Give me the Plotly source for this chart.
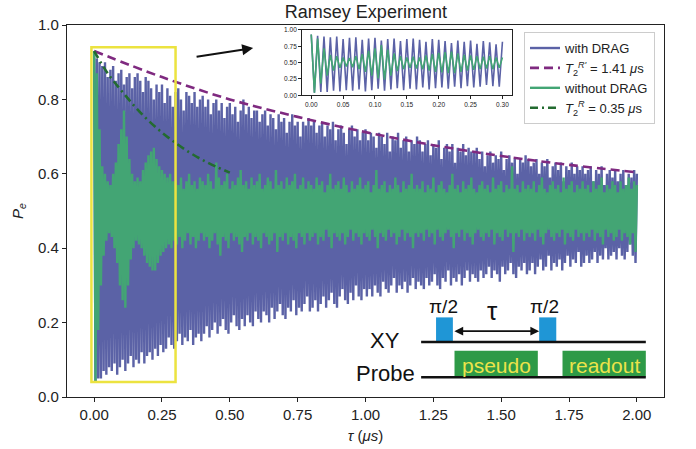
import numpy as np
import plotly.graph_objects as go

# ---------------- data ----------------
# Ramsey fringes sampled at peaks (t = 0, 0.01, ... 2.00 us) and troughs (t = 0.005, ... 1.995 us)
blue_tops = [
    0.93, 0.91, 0.90, 0.89, 0.90, 0.86, 0.88, 0.89, 0.85, 0.87, 0.88, 0.84, 0.86, 0.87, 0.83, 0.86, 0.87, 0.85, 0.82, 0.86,
    0.85, 0.83, 0.80, 0.84, 0.82, 0.84, 0.79, 0.83, 0.81, 0.78, 0.82, 0.83, 0.80, 0.77, 0.82, 0.81, 0.79, 0.82, 0.78, 0.80,
    0.81, 0.78, 0.80, 0.76, 0.79, 0.80, 0.77, 0.79, 0.75, 0.78, 0.79, 0.76, 0.78, 0.74, 0.77, 0.80, 0.76, 0.78, 0.75, 0.77,
    0.77, 0.74, 0.76, 0.77, 0.73, 0.76, 0.75, 0.72, 0.76, 0.74, 0.75, 0.71, 0.74, 0.76, 0.73, 0.74, 0.70, 0.74, 0.73, 0.75,
    0.73, 0.74, 0.71, 0.73, 0.74, 0.70, 0.73, 0.72, 0.74, 0.69, 0.72, 0.73, 0.71, 0.68, 0.72, 0.73, 0.70, 0.72, 0.69, 0.71,
    0.72, 0.69, 0.71, 0.70, 0.67, 0.71, 0.70, 0.68, 0.71, 0.66, 0.70, 0.69, 0.71, 0.67, 0.69, 0.70, 0.66, 0.69, 0.68, 0.70,
    0.69, 0.66, 0.68, 0.69, 0.65, 0.68, 0.67, 0.69, 0.64, 0.67, 0.68, 0.66, 0.68, 0.63, 0.67, 0.66, 0.68, 0.65, 0.67, 0.66,
    0.66, 0.67, 0.64, 0.66, 0.62, 0.65, 0.66, 0.63, 0.65, 0.64, 0.66, 0.61, 0.64, 0.65, 0.63, 0.64, 0.60, 0.64, 0.63, 0.65,
    0.64, 0.62, 0.63, 0.64, 0.60, 0.63, 0.62, 0.64, 0.59, 0.62, 0.63, 0.61, 0.63, 0.58, 0.62, 0.61, 0.63, 0.60, 0.62, 0.61,
    0.62, 0.60, 0.61, 0.62, 0.58, 0.61, 0.60, 0.62, 0.57, 0.60, 0.61, 0.59, 0.61, 0.58, 0.60, 0.61, 0.57, 0.60, 0.59, 0.61,
    0.60,
]
blue_bottoms = [
    0.04, 0.05, 0.05, 0.07, 0.06, 0.08, 0.07, 0.09, 0.06, 0.08, 0.10, 0.07, 0.09, 0.11, 0.08, 0.10, 0.09, 0.12, 0.09, 0.11,
    0.12, 0.10, 0.13, 0.11, 0.14, 0.12, 0.13, 0.16, 0.14, 0.13, 0.15, 0.17, 0.14, 0.16, 0.15, 0.18, 0.14, 0.16, 0.17, 0.15,
    0.17, 0.19, 0.16, 0.18, 0.20, 0.17, 0.19, 0.21, 0.18, 0.17, 0.20, 0.22, 0.19, 0.18, 0.21, 0.19, 0.22, 0.20, 0.19, 0.23,
    0.21, 0.20, 0.23, 0.22, 0.20, 0.24, 0.21, 0.23, 0.25, 0.22, 0.21, 0.24, 0.23, 0.26, 0.22, 0.24, 0.23, 0.25, 0.27, 0.23,
    0.24, 0.26, 0.23, 0.25, 0.27, 0.24, 0.26, 0.28, 0.25, 0.24, 0.27, 0.29, 0.26, 0.25, 0.28, 0.26, 0.30, 0.27, 0.26, 0.29,
    0.27, 0.29, 0.27, 0.30, 0.28, 0.27, 0.31, 0.29, 0.28, 0.30, 0.32, 0.28, 0.30, 0.29, 0.31, 0.28, 0.30, 0.32, 0.29, 0.31,
    0.30, 0.29, 0.32, 0.30, 0.31, 0.33, 0.30, 0.29, 0.32, 0.31, 0.34, 0.30, 0.32, 0.31, 0.33, 0.30, 0.32, 0.34, 0.31, 0.33,
    0.32, 0.31, 0.34, 0.32, 0.33, 0.35, 0.32, 0.34, 0.33, 0.31, 0.35, 0.33, 0.34, 0.36, 0.33, 0.32, 0.35, 0.34, 0.36, 0.33,
    0.34, 0.36, 0.33, 0.35, 0.37, 0.34, 0.35, 0.38, 0.34, 0.36, 0.35, 0.37, 0.34, 0.36, 0.38, 0.35, 0.37, 0.36, 0.39, 0.35,
    0.36, 0.38, 0.36, 0.37, 0.39, 0.36, 0.38, 0.37, 0.40, 0.37, 0.38, 0.39, 0.37, 0.40, 0.38, 0.37, 0.39, 0.41, 0.38, 0.36,
]
green_tops = [
    0.93, 0.87, 0.72, 0.62, 0.60, 0.58, 0.57, 0.60, 0.63, 0.68, 0.72, 0.77, 0.70, 0.64, 0.60, 0.58, 0.59, 0.58, 0.61, 0.63,
    0.65, 0.66, 0.67, 0.64, 0.62, 0.61, 0.60, 0.59, 0.60, 0.58, 0.58, 0.57, 0.59, 0.56, 0.58, 0.60, 0.57, 0.58, 0.56, 0.59,
    0.58, 0.57, 0.60, 0.58, 0.56, 0.63, 0.59, 0.57, 0.58, 0.60, 0.56, 0.58, 0.57, 0.59, 0.61, 0.57, 0.58, 0.56, 0.59, 0.57,
    0.58, 0.60, 0.56, 0.57, 0.59, 0.58, 0.56, 0.61, 0.57, 0.58, 0.56, 0.59, 0.57, 0.58, 0.60, 0.56, 0.57, 0.59, 0.56, 0.58,
    0.57, 0.56, 0.59, 0.57, 0.58, 0.55, 0.57, 0.60, 0.56, 0.57, 0.58, 0.56, 0.59, 0.57, 0.55, 0.58, 0.56, 0.57, 0.59, 0.56,
    0.57, 0.58, 0.55, 0.57, 0.61, 0.56, 0.57, 0.58, 0.55, 0.57, 0.56, 0.59, 0.57, 0.55, 0.58, 0.56, 0.57, 0.60, 0.56, 0.57,
    0.56, 0.58, 0.55, 0.57, 0.56, 0.59, 0.55, 0.57, 0.58, 0.56, 0.55, 0.57, 0.60, 0.56, 0.57, 0.55, 0.58, 0.56, 0.57, 0.59,
    0.56, 0.55, 0.57, 0.58, 0.56, 0.57, 0.55, 0.59, 0.56, 0.57, 0.58, 0.55, 0.57, 0.56, 0.62, 0.56, 0.57, 0.55, 0.58, 0.56,
    0.57, 0.56, 0.58, 0.55, 0.57, 0.59, 0.56, 0.55, 0.57, 0.58, 0.56, 0.57, 0.55, 0.59, 0.56, 0.57, 0.58, 0.55, 0.57, 0.56,
    0.58, 0.56, 0.57, 0.55, 0.58, 0.56, 0.57, 0.59, 0.55, 0.57, 0.56, 0.58, 0.57, 0.55, 0.58, 0.56, 0.57, 0.59, 0.56, 0.58,
    0.57,
]
green_bottoms = [
    0.04, 0.18, 0.30, 0.38, 0.42, 0.44, 0.43, 0.40, 0.36, 0.30, 0.26, 0.24, 0.30, 0.37, 0.40, 0.42, 0.41, 0.40, 0.38, 0.36,
    0.35, 0.34, 0.34, 0.36, 0.38, 0.39, 0.40, 0.41, 0.40, 0.42, 0.41, 0.43, 0.40, 0.42, 0.44, 0.41, 0.43, 0.40, 0.42, 0.44,
    0.42, 0.43, 0.40, 0.42, 0.44, 0.41, 0.38, 0.43, 0.42, 0.40, 0.44, 0.42, 0.43, 0.41, 0.39, 0.43, 0.42, 0.44, 0.41, 0.43,
    0.42, 0.40, 0.44, 0.43, 0.41, 0.42, 0.44, 0.39, 0.43, 0.42, 0.44, 0.41, 0.43, 0.42, 0.40, 0.44, 0.43, 0.41, 0.44, 0.42,
    0.43, 0.44, 0.41, 0.43, 0.42, 0.45, 0.43, 0.40, 0.44, 0.43, 0.42, 0.44, 0.41, 0.43, 0.45, 0.42, 0.44, 0.43, 0.41, 0.44,
    0.43, 0.42, 0.45, 0.43, 0.40, 0.44, 0.43, 0.42, 0.45, 0.43, 0.44, 0.41, 0.43, 0.45, 0.42, 0.44, 0.43, 0.40, 0.44, 0.43,
    0.44, 0.42, 0.45, 0.43, 0.44, 0.41, 0.45, 0.43, 0.42, 0.44, 0.45, 0.43, 0.40, 0.44, 0.43, 0.45, 0.42, 0.44, 0.43, 0.41,
    0.44, 0.45, 0.43, 0.42, 0.44, 0.43, 0.45, 0.41, 0.44, 0.43, 0.42, 0.45, 0.43, 0.44, 0.39, 0.44, 0.43, 0.45, 0.42, 0.44,
    0.43, 0.44, 0.42, 0.45, 0.43, 0.41, 0.44, 0.45, 0.43, 0.42, 0.44, 0.43, 0.45, 0.41, 0.44, 0.43, 0.42, 0.45, 0.43, 0.44,
    0.42, 0.44, 0.43, 0.45, 0.42, 0.44, 0.43, 0.41, 0.45, 0.43, 0.44, 0.42, 0.43, 0.45, 0.42, 0.44, 0.43, 0.41, 0.44, 0.39,
]

# Decay fits
fit_drag_t = [0.0, 0.25, 0.5, 0.75, 1.0, 1.25, 1.5, 1.75, 2.0]
fit_drag_p = [0.93, 0.86, 0.80, 0.753, 0.712, 0.677, 0.648, 0.624, 0.604]
fit_nodrag_t = [0.0, 0.05, 0.1, 0.15, 0.2, 0.25, 0.3, 0.35, 0.4, 0.45, 0.5]
fit_nodrag_p = [0.93, 0.87, 0.824, 0.781, 0.743, 0.711, 0.683, 0.658, 0.637, 0.619, 0.603]

x_ticks = [0.0, 0.25, 0.5, 0.75, 1.0, 1.25, 1.5, 1.75, 2.0]
y_ticks = [0.0, 0.2, 0.4, 0.6, 0.8, 1.0]
inset_x_ticks = [0.0, 0.05, 0.1, 0.15, 0.2, 0.25, 0.3]
inset_y_ticks = [0.0, 0.25, 0.5, 0.75, 1.0]

labels = ["with DRAG",
          "<i>T</i><sub>2</sub><sup><i>R'</i></sup> = 1.41 <i>μ</i>s",
          "without DRAG",
          "<i>T</i><sub>2</sub><sup><i>R</i></sup> = 0.35 <i>μ</i>s"]

# ---------------- build series ----------------
step = 0.005
n = len(blue_tops) + len(blue_bottoms)
tau = np.arange(n) * step
blue = np.empty(n); blue[0::2] = blue_tops; blue[1::2] = blue_bottoms
green = np.empty(n); green[0::2] = green_tops; green[1::2] = green_bottoms
inset_mask = tau <= 0.3 + 1e-9

C_BLUE = "#5b62a6"
C_PURPLE = "#7f2a80"
C_GREEN = "#43a574"
C_DKGREEN = "#236b30"
FONT = "Liberation Sans, Arial, Helvetica, sans-serif"

fig = go.Figure()
fig.add_trace(go.Scatter(x=tau, y=blue, mode="lines", name=labels[0],
                         line=dict(color=C_BLUE, width=2.4)))
fig.add_trace(go.Scatter(x=fit_drag_t, y=fit_drag_p, mode="lines", name=labels[1],
                         line=dict(color=C_PURPLE, width=2.6, dash="9px,5px", shape="spline")))
fig.add_trace(go.Scatter(x=tau, y=green, mode="lines", name=labels[2],
                         line=dict(color=C_GREEN, width=2.4)))
fig.add_trace(go.Scatter(x=fit_nodrag_t, y=fit_nodrag_p, mode="lines", name=labels[3],
                         line=dict(color=C_DKGREEN, width=2.6, dash="8px,4px,2px,4px", shape="spline")))

# inset
fig.add_trace(go.Scatter(x=tau[inset_mask], y=blue[inset_mask], mode="lines", showlegend=False,
                         line=dict(color=C_BLUE, width=1.6), xaxis="x2", yaxis="y2"))
fig.add_trace(go.Scatter(x=tau[inset_mask], y=green[inset_mask], mode="lines", showlegend=False,
                         line=dict(color=C_GREEN, width=1.6), xaxis="x2", yaxis="y2"))

axis_common = dict(showgrid=False, zeroline=False, showline=True, linecolor="#222", linewidth=1.2,
                   mirror=True, ticks="outside", tickcolor="#222", ticklen=4, tickwidth=1,
                   automargin=False)

fig.update_layout(
    width=696, height=449,
    margin=dict(l=67, r=32, t=25, b=52),
    paper_bgcolor="white", plot_bgcolor="white",
    font=dict(family=FONT, size=15, color="#222"),
    title=dict(text="Ramsey Experiment", x=0.5257, xanchor="center", y=0.975, yanchor="middle",
               font=dict(size=18, family=FONT, color="#222")),
    xaxis=dict(range=[-0.1, 2.1], tickvals=x_ticks, ticktext=[f"{v:.2f}" for v in x_ticks],
               title=dict(text="<i>τ</i> (<i>μs</i>)", font=dict(size=15), standoff=8),
               domain=[0, 1], **axis_common),
    yaxis=dict(range=[0, 1], tickvals=y_ticks, ticktext=[f"{v:.1f}" for v in y_ticks],
               title=dict(text="<i>P<sub>e</sub></i>", font=dict(size=15), standoff=10),
               domain=[0, 1], **axis_common),
    xaxis2=dict(range=[-0.015, 0.315], domain=[0.3931, 0.7454], anchor="y2",
                tickvals=inset_x_ticks, ticktext=[f"{v:.2f}" for v in inset_x_ticks],
                tickfont=dict(size=6.5), showgrid=False, zeroline=False, showline=True,
                linecolor="#222", linewidth=1.2, mirror=True, ticks="outside", ticklen=2.5,
                tickcolor="#222", automargin=False),
    yaxis2=dict(range=[0, 1], domain=[0.811, 0.9866], anchor="x2",
                tickvals=inset_y_ticks, ticktext=[f"{v:.2f}" for v in inset_y_ticks],
                tickfont=dict(size=6.5), showgrid=False, zeroline=False, showline=True,
                linecolor="#222", linewidth=1.2, mirror=True, ticks="outside", ticklen=2.5,
                tickcolor="#222", automargin=False),
    legend=dict(x=0.7655, y=0.981, xanchor="left", yanchor="top", bgcolor="white",
                bordercolor="#cccccc", borderwidth=1, font=dict(size=13, family=FONT, color="#222"),
                tracegroupgap=0, itemwidth=30),
    showlegend=True,
)

# yellow highlight box
fig.add_shape(type="rect", xref="x", yref="y", x0=-0.01, x1=0.30, y0=0.04, y1=0.94,
              line=dict(color="#ece340", width=2.5), layer="above")

# arrow towards inset
fig.add_annotation(x=0.586, y=0.938, ax=0.372, ay=0.914, xref="x", yref="y", axref="x", ayref="y",
                   showarrow=True, arrowhead=2, arrowsize=1.1, arrowwidth=2, arrowcolor="#111", text="")

# ---------------- pulse-sequence schematic ----------------
SEQ_BLUE = "#1f96d6"
SEQ_GREEN = "#2e9a47"
SEQ_YELLOW = "#ece34a"
line_x0, line_x1 = 1.205, 2.033
xy_y, probe_y = 0.148, 0.053
for (a, b) in [(1.26, 1.322), (1.64, 1.703)]:
    fig.add_shape(type="rect", xref="x", yref="y", x0=a, x1=b, y0=xy_y, y1=0.214,
                  fillcolor=SEQ_BLUE, line=dict(width=0), layer="above")
for (a, b, txt) in [(1.328, 1.635, "pseudo"), (1.726, 2.033, "readout")]:
    fig.add_shape(type="rect", xref="x", yref="y", x0=a, x1=b, y0=0.055, y1=0.124,
                  fillcolor=SEQ_GREEN, line=dict(width=0), layer="above")
    fig.add_annotation(x=(a + b) / 2, y=0.086, xref="x", yref="y", text=txt, showarrow=False,
                       font=dict(size=21, color=SEQ_YELLOW, family=FONT))
fig.add_shape(type="line", xref="x", yref="y", x0=line_x0, x1=line_x1, y0=xy_y, y1=xy_y,
              line=dict(color="#111", width=2.6), layer="above")
fig.add_shape(type="line", xref="x", yref="y", x0=line_x0, x1=line_x1, y0=probe_y, y1=probe_y,
              line=dict(color="#111", width=2.6), layer="above")
fig.add_annotation(x=1.64, y=0.177, ax=1.322, ay=0.177, xref="x", yref="y", axref="x", ayref="y",
                   showarrow=True, arrowhead=2, arrowside="end+start", arrowsize=1.1, arrowwidth=1.6,
                   arrowcolor="#111", text="")
fig.add_annotation(x=1.467, y=0.232, xref="x", yref="y", text="τ", showarrow=False,
                   font=dict(size=26, color="#111", family=FONT))
for xc in [1.286, 1.658]:
    fig.add_annotation(x=xc, y=0.242, xref="x", yref="y", text="π/2", showarrow=False,
                       font=dict(size=19, color="#111", family=FONT))
fig.add_annotation(x=1.072, y=0.153, xref="x", yref="y", text="XY", showarrow=False,
                   font=dict(size=22, color="#111", family=FONT))
fig.add_annotation(x=1.072, y=0.062, xref="x", yref="y", text="Probe", showarrow=False,
                   font=dict(size=22, color="#111", family=FONT))

fig.write_html("out.html", config={"displayModeBar": False},
               post_script="document.body.style.margin='0';document.body.style.overflow='hidden';")
